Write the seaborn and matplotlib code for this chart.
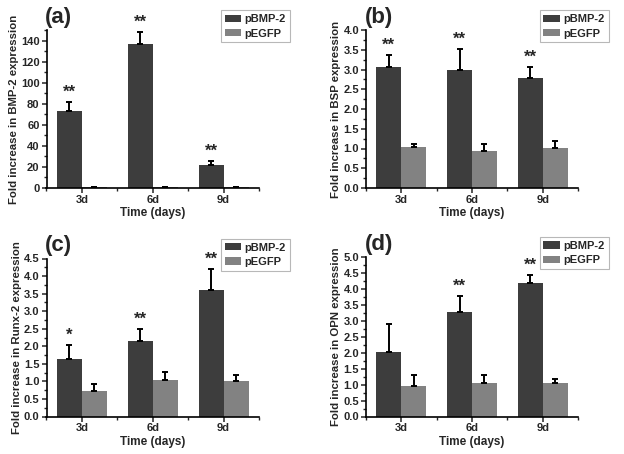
import matplotlib
matplotlib.use("Agg")
import matplotlib.pyplot as plt
from matplotlib.ticker import MultipleLocator, FormatStrFormatter
import seaborn as sns
import pandas as pd
import numpy as np

days = ["3d", "6d", "9d"]
groups = ["pBMP-2", "pEGFP"]

# (a) BMP-2
bmp2_bmp = [73.3, 136.8, 22.2]
bmp2_bmp_err = [8.6, 11.2, 3.5]
bmp2_egfp = [1.0, 1.0, 1.0]
bmp2_egfp_err = [0.2, 0.2, 0.2]
bmp2_stars = ["**", "**", "**"]

# (b) BSP
bsp_bmp = [3.07, 3.00, 2.79]
bsp_bmp_err = [0.30, 0.53, 0.28]
bsp_egfp = [1.05, 0.93, 1.01]
bsp_egfp_err = [0.07, 0.19, 0.19]
bsp_stars = ["**", "**", "**"]

# (c) Runx-2
runx_bmp = [1.65, 2.14, 3.60]
runx_bmp_err = [0.40, 0.36, 0.61]
runx_egfp = [0.74, 1.03, 1.01]
runx_egfp_err = [0.19, 0.25, 0.16]
runx_stars = ["*", "**", "**"]

# (d) OPN
opn_bmp = [2.03, 3.27, 4.17]
opn_bmp_err = [0.86, 0.52, 0.28]
opn_egfp = [0.96, 1.05, 1.06]
opn_egfp_err = [0.33, 0.24, 0.13]
opn_stars = ["", "**", "**"]

dark = "#3d3d3d"
light = "#828282"

sns.set_style("ticks")
plt.rcParams["font.family"] = ["Liberation Sans", "DejaVu Sans"]
plt.rcParams["font.weight"] = "bold"
plt.rcParams["axes.labelweight"] = "bold"

fig = plt.figure(figsize=(6.24, 4.54), dpi=100)

W, H = 624.0, 454.0
panels = [
    ("(a)", "Fold increase in BMP-2 expression", bmp2_bmp, bmp2_bmp_err, bmp2_egfp, bmp2_egfp_err,
     bmp2_stars, 150, 20, 10, (46.5, 30, 259, 188)),
    ("(b)", "Fold increase in BSP expression", bsp_bmp, bsp_bmp_err, bsp_egfp, bsp_egfp_err,
     bsp_stars, 4.0, 0.5, 0.25, (366, 30, 578, 188)),
    ("(c)", "Fold increase in Runx-2 expression", runx_bmp, runx_bmp_err, runx_egfp, runx_egfp_err,
     runx_stars, 4.5, 0.5, 0.25, (46.5, 258.5, 259, 416.5)),
    ("(d)", "Fold increase in OPN expression", opn_bmp, opn_bmp_err, opn_egfp, opn_egfp_err,
     opn_stars, 5.0, 0.5, 0.25, (366, 257, 578, 416.5)),
]

for tag, ylabel, v1, e1, v2, e2, stars, ymax, major, minor, box in panels:
    x0, y0, x1, y1 = box
    ax = fig.add_axes([x0 / W, 1 - y1 / H, (x1 - x0) / W, (y1 - y0) / H])

    df = pd.DataFrame({
        "day": days * 2,
        "value": v1 + v2,
        "group": [groups[0]] * 3 + [groups[1]] * 3,
    })
    sns.barplot(data=df, x="day", y="value", hue="group", palette=[dark, light],
                width=0.704, gap=0, errorbar=None, saturation=1, linewidth=0, ax=ax)

    for cont, errs in zip(ax.containers, [e1, e2]):
        xs = [p.get_x() + p.get_width() / 2 for p in cont]
        hs = [p.get_height() for p in cont]
        ax.errorbar(xs, hs, yerr=[np.zeros(3), errs], fmt="none", ecolor="black",
                    elinewidth=1.4, capsize=2.3, capthick=1.4)

    for p, err, s in zip(ax.containers[0], e1, stars):
        if s:
            ax.annotate(s, (p.get_x() + p.get_width() / 2, p.get_height() + err),
                        xytext=(0, 1.5), textcoords="offset points", ha="center", va="bottom",
                        fontsize=12, fontweight="bold", zorder=1)

    ax.set_xlim(-0.5, 2.5)
    ax.set_ylim(0, ymax)
    ax.yaxis.set_major_locator(MultipleLocator(major))
    ax.yaxis.set_minor_locator(MultipleLocator(minor))
    ax.xaxis.set_minor_locator(MultipleLocator(0.5))
    ax.yaxis.set_major_formatter(FormatStrFormatter("%d" if ymax > 10 else "%.1f"))
    ax.tick_params(axis="both", which="major", length=3.5, width=1.1, labelsize=8,
                   direction="out", pad=1.5)
    ax.tick_params(axis="both", which="minor", length=2, width=1.0, direction="out")
    for lab in ax.get_xticklabels() + ax.get_yticklabels():
        lab.set_fontweight("bold")
    ax.set_xlabel("Time (days)", fontsize=8.5, fontweight="bold", labelpad=1.5)
    ax.set_ylabel(ylabel, fontsize=8.2, fontweight="bold", labelpad=1.5)
    sns.despine(ax=ax)
    for sp in ["left", "bottom"]:
        ax.spines[sp].set_linewidth(1.2)
        ax.spines[sp].set_color("black")

    leg = ax.legend(loc="upper right", bbox_to_anchor=(1.145, 1.125), frameon=True,
                    fancybox=False, edgecolor="#b8b8b8", framealpha=1,
                    prop={"size": 8, "weight": "bold"}, handlelength=1.5,
                    handleheight=0.65, labelspacing=0.4, borderpad=0.35,
                    handletextpad=0.3, borderaxespad=0)
    leg.get_frame().set_linewidth(0.8)
    leg.set_zorder(5)

    fig.text((x0 - 1.5) / W, 1 - (y0 - 12.5) / H, tag, fontsize=16, fontweight="bold",
             ha="left", va="center")

fig.savefig("out.png", dpi=100)
